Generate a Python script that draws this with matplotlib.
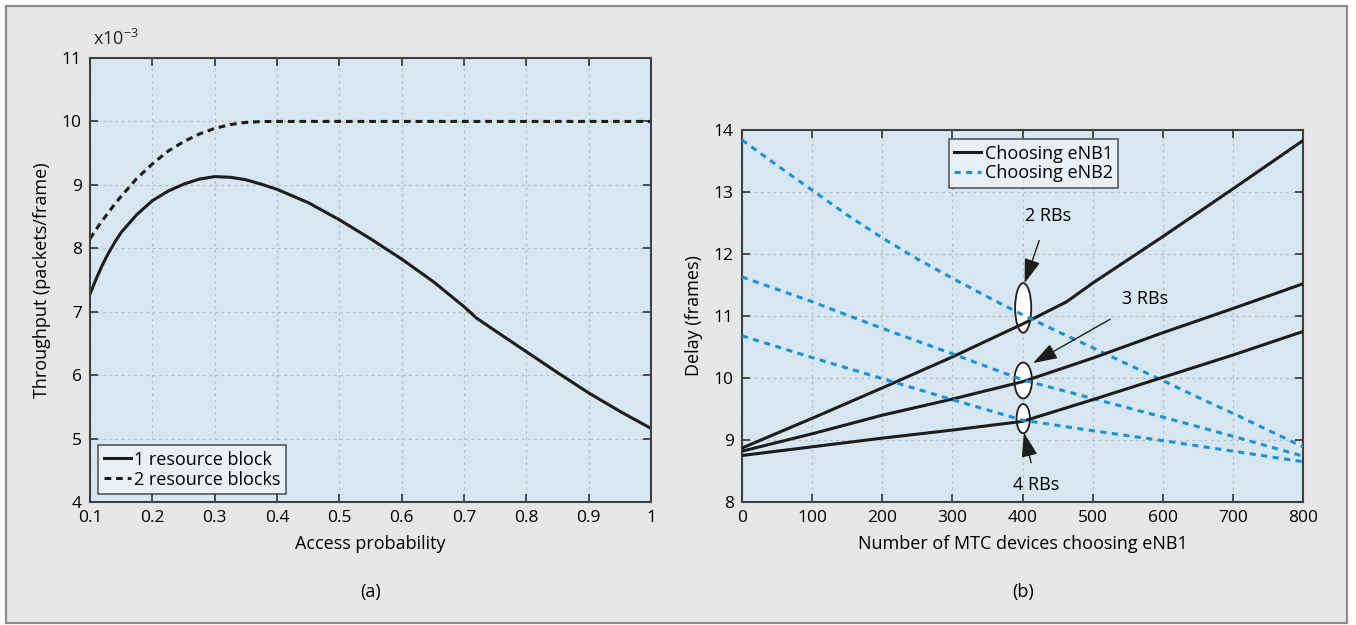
import numpy as np
import matplotlib
matplotlib.use("Agg")
import matplotlib.pyplot as plt
from matplotlib.patches import Rectangle, Ellipse

plt.rcParams['font.family'] = ['Open Sans', 'DejaVu Sans']

# ---------------- data: (a) throughput vs access probability (x1e-3) ----------------
p_1rb = [0.10, 0.11, 0.12, 0.13, 0.14, 0.15, 0.175, 0.20, 0.225, 0.25, 0.275,
         0.30, 0.325, 0.35, 0.375, 0.40, 0.45, 0.50, 0.55, 0.60, 0.65, 0.70,
         0.72, 0.75, 0.80, 0.85, 0.90, 0.95, 1.00]
thr_1rb = [7.28, 7.52, 7.74, 7.93, 8.10, 8.25, 8.53, 8.75, 8.90, 9.01, 9.09,
           9.13, 9.12, 9.08, 9.01, 8.93, 8.72, 8.45, 8.15, 7.83, 7.48, 7.08,
           6.90, 6.70, 6.37, 6.04, 5.72, 5.43, 5.16]
p_2rb = [0.10, 0.11, 0.12, 0.13, 0.14, 0.15, 0.175, 0.20, 0.225, 0.25, 0.275,
         0.30, 0.325, 0.35, 0.375, 0.40, 0.50, 0.60, 0.70, 0.80, 0.90, 1.00]
thr_2rb = [8.15, 8.30, 8.44, 8.57, 8.70, 8.82, 9.10, 9.33, 9.53, 9.68, 9.80,
           9.89, 9.95, 9.985, 9.998, 10.0, 10.0, 10.0, 10.0, 10.0, 10.0, 10.0]

# ---------------- data: (b) delay vs number of devices choosing eNB1 ----------------
n_dev = [0, 100, 200, 300, 400, 500, 600, 700, 800]
n_dev_2rb = [0, 100, 200, 300, 400, 463, 500, 600, 700, 800]
n_fine = [0, 50, 100, 150, 200, 250, 300, 350, 400, 450, 500, 550, 600, 650,
          700, 750, 800]
eNB1_2rb = [8.87, 9.35, 9.84, 10.34, 10.87, 11.23, 11.53, 12.28, 13.05, 13.83]
eNB1_3rb = [8.82, 9.10, 9.40, 9.66, 9.94, 10.32, 10.73, 11.12, 11.52]
eNB1_4rb = [8.75, 8.89, 9.03, 9.16, 9.30, 9.65, 10.01, 10.37, 10.75]
eNB2_2rb = [13.84, 13.43, 13.03, 12.63, 12.26, 11.92, 11.61, 11.31, 11.02,
            10.75, 10.49, 10.22, 9.96, 9.69, 9.43, 9.16, 8.89]
eNB2_3rb = [11.63, 11.23, 10.80, 10.39, 9.97, 9.67, 9.37, 9.06, 8.74]
eNB2_4rb = [10.68, 10.33, 9.99, 9.65, 9.32, 9.15, 8.99, 8.82, 8.65]

BG = '#d7e7f1'
PANEL = '#e6e7e9'
BLUE = '#1b93d3'
INK = '#1c1c1c'
GRID = '#b9b9b9'
FS = 13

fig = plt.figure(figsize=(13.56, 6.25), dpi=100)
fig.patch.set_facecolor('white')
panel = Rectangle((6 / 1356, 2 / 625), 1341 / 1356, 617 / 625,
                  transform=fig.transFigure, facecolor=PANEL,
                  edgecolor='#8c8c8c', linewidth=1.6, zorder=-10)
fig.patches.append(panel)


def style_axes(ax):
    ax.set_facecolor(BG)
    ax.grid(True, linestyle=(0, (2, 3)), color=GRID, linewidth=0.9)
    ax.tick_params(direction='in', top=True, right=True, length=6, width=1.2,
                   color='#333333', labelsize=12.5, pad=6)
    for s in ax.spines.values():
        s.set_color('#404040')
        s.set_linewidth(1.5)


def style_legend(leg):
    leg.get_frame().set_edgecolor('#333333')
    leg.get_frame().set_facecolor('#eef3f7')
    leg.get_frame().set_linewidth(1.2)


# ---------------- (a) ----------------
ax1 = fig.add_axes([90 / 1356, 123 / 625, 561 / 1356, 444 / 625])
style_axes(ax1)
ax1.plot(p_1rb, thr_1rb, color=INK, lw=2.2, label='1 resource block')
ax1.plot(p_2rb, thr_2rb, color=INK, lw=2.2, linestyle=(0, (2.2, 1.6)),
         label='2 resource blocks')
ax1.set_xlim(0.1, 1.0)
ax1.set_ylim(4, 11)
ax1.set_xticks(np.arange(0.1, 1.01, 0.1))
ax1.set_xticklabels(['0.1', '0.2', '0.3', '0.4', '0.5', '0.6', '0.7', '0.8', '0.9', '1'])
ax1.set_yticks(range(4, 12))
ax1.set_xlabel('Access probability', fontsize=FS, labelpad=6)
ax1.set_ylabel('Throughput (packets/frame)', fontsize=FS, labelpad=8)
ax1.text(0.006, 1.02, r'x10$^{\mathregular{-3}}$', transform=ax1.transAxes,
         fontsize=FS, va='bottom', ha='left', color='#222222')
leg1 = ax1.legend(loc='lower left', bbox_to_anchor=(0.008, 0.01), fontsize=FS,
                  frameon=True, fancybox=False, handlelength=1.5, handletextpad=0.2,
                  borderpad=0.3, borderaxespad=0.2, labelspacing=0.1)
style_legend(leg1)
fig.text(371 / 1356, 1 - 592 / 625, '(a)', ha='center', va='center', fontsize=FS)

# ---------------- (b) ----------------
ax2 = fig.add_axes([742 / 1356, 123 / 625, 561 / 1356, 372 / 625])
style_axes(ax2)
for el_x, el_y, el_w, el_h in [(401, 11.13, 23, 0.80), (401, 9.96, 25, 0.58),
                               (401, 9.345, 19, 0.47)]:
    ax2.add_patch(Ellipse((el_x, el_y), el_w, el_h, facecolor='white',
                          edgecolor=INK, linewidth=1.3, zorder=2))
dash_b = (0, (2.0, 1.8))
ax2.plot(n_dev_2rb, eNB1_2rb, color=INK, lw=2.2, zorder=3, label='Choosing eNB1')
ax2.plot(n_fine, eNB2_2rb, color=BLUE, lw=2.2, ls=dash_b, zorder=3, label='Choosing eNB2')
ax2.plot(n_dev, eNB1_3rb, color=INK, lw=2.2, zorder=3)
ax2.plot(n_dev, eNB2_3rb, color=BLUE, lw=2.2, ls=dash_b, zorder=3)
ax2.plot(n_dev, eNB1_4rb, color=INK, lw=2.2, zorder=3)
ax2.plot(n_dev, eNB2_4rb, color=BLUE, lw=2.2, ls=dash_b, zorder=3)
ax2.set_xlim(0, 800)
ax2.set_ylim(8, 14)
ax2.set_xticks(range(0, 801, 100))
ax2.set_yticks(range(8, 15))
ax2.set_xlabel('Number of MTC devices choosing eNB1', fontsize=FS, labelpad=6)
ax2.set_ylabel('Delay (frames)', fontsize=FS, labelpad=8)
leg2 = ax2.legend(loc='upper center', bbox_to_anchor=(0.52, 0.985), fontsize=FS,
                  frameon=True, fancybox=False, handlelength=1.5, handletextpad=0.2,
                  borderpad=0.3, borderaxespad=0.2, labelspacing=0.1)
style_legend(leg2)

arrow_kw = dict(arrowstyle='-|>,head_length=1.0,head_width=0.33', color=INK,
                lw=1.0, mutation_scale=15)
ax2.annotate('2 RBs', xy=(403, 11.53), xytext=(436, 12.62), fontsize=FS,
             ha='center', va='center', arrowprops=dict(arrow_kw, shrinkA=10, shrinkB=0),
             zorder=4)
ax2.annotate('3 RBs', xy=(415, 10.24), xytext=(575, 11.27), fontsize=FS,
             ha='center', va='center', arrowprops=dict(arrow_kw, shrinkA=12, shrinkB=0),
             zorder=4)
ax2.annotate('4 RBs', xy=(402, 9.12), xytext=(420, 8.27), fontsize=FS,
             ha='center', va='center', arrowprops=dict(arrow_kw, shrinkA=8, shrinkB=0),
             zorder=4)
fig.text(1023 / 1356, 1 - 592 / 625, '(b)', ha='center', va='center', fontsize=FS)

fig.savefig('out.png', dpi=100, facecolor=fig.get_facecolor())
